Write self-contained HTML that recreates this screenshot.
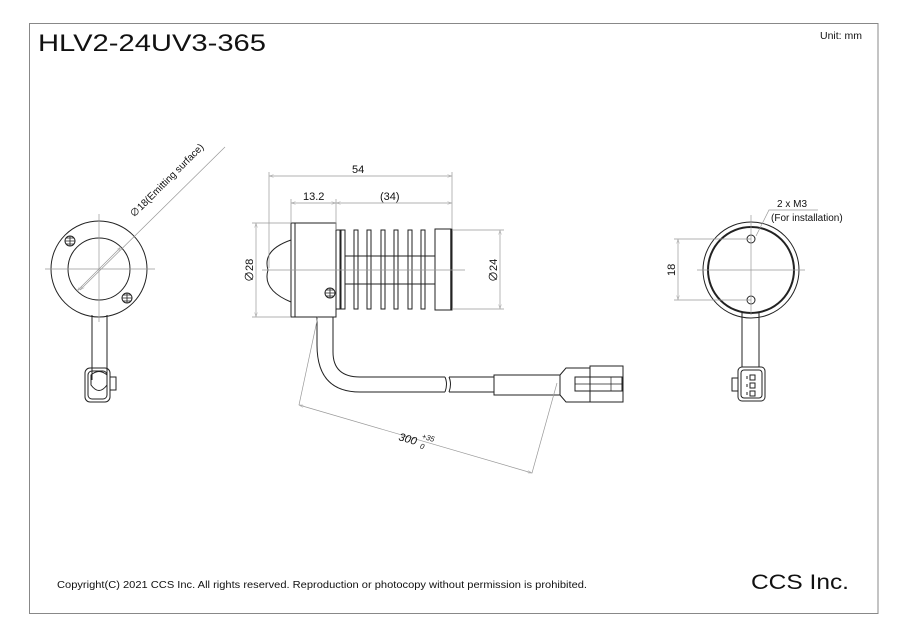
<!DOCTYPE html>
<html><head><meta charset="utf-8"><style>
html,body{margin:0;padding:0;background:#fff;width:900px;height:636px;overflow:hidden}
svg{display:block}
text{font-family:"Liberation Sans","Noto Sans CJK JP",sans-serif;fill:#111}
</style></head><body>
<svg width="900" height="636" viewBox="0 0 900 636" xmlns="http://www.w3.org/2000/svg">
<defs>
<marker id="a" viewBox="0 0 10 6" refX="10" refY="3" markerWidth="8" markerHeight="4" orient="auto-start-reverse"><path d="M0,0 L10,3 L0,6" fill="none" stroke="#aaa" stroke-width="1"/></marker>
</defs>
<rect x="29.5" y="23.5" width="848.5" height="590" fill="none" stroke="#888" stroke-width="1"/>
<text x="38" y="51" font-size="24" textLength="228" lengthAdjust="spacingAndGlyphs" font-family="'Noto Sans CJK JP',sans-serif">HLV2-24UV3-365</text>
<text x="820" y="39" font-size="10.5">Unit: mm</text>
<text x="57" y="588" font-size="10" textLength="530" lengthAdjust="spacingAndGlyphs">Copyright(C) 2021 CCS Inc. All rights reserved. Reproduction or photocopy without permission is prohibited.</text>
<text x="751" y="589" font-size="21" textLength="98" lengthAdjust="spacingAndGlyphs">CCS Inc.</text>

<g fill="none" stroke="#222" stroke-width="1">
<circle cx="99" cy="269" r="48"/>
<circle cx="99" cy="269" r="31"/>
<circle cx="70" cy="241" r="5"/><path d="M65,241h10M70,236v10M66,238h8M66,244h8" stroke-width="0.8"/>
<circle cx="127" cy="298" r="5"/><path d="M122,298h10M127,293v10M123,295h8M123,301h8" stroke-width="0.8"/>
<path d="M92,315V380M107,315V380"/>
<rect x="85" y="368" width="25" height="34" rx="5"/>
<rect x="88" y="371" width="19" height="28" rx="4"/>
<path d="M91,375 Q99,368 107,375 V385 Q99,396 91,385Z"/>
<rect x="110" y="377" width="6" height="13"/>

<rect x="291" y="223" width="45" height="94"/>
<path d="M295,223V317"/>
<path d="M291,240 Q262,250 268,270 Q262,290 291,302"/>
<rect x="336" y="230" width="4" height="79"/>
<rect x="341" y="230" width="4" height="79"/>
<rect x="354" y="230" width="4" height="79"/>
<rect x="367" y="230" width="4" height="79"/>
<rect x="381" y="230" width="4" height="79"/>
<rect x="394" y="230" width="4" height="79"/>
<rect x="408" y="230" width="4" height="79"/>
<rect x="421" y="230" width="4" height="79"/>
<path d="M345,256H435M345,284H435"/>
<rect x="435" y="229" width="17" height="81"/>
<path d="M451,229V310" stroke-width="1.5"/>
<circle cx="330" cy="293" r="5"/><path d="M325,293h10M330,288v10M326,290h8M326,296h8" stroke-width="0.8"/>
<path d="M317,317 V345 Q317,392 360,392 H445"/>
<path d="M333,317 V352 Q333,377 360,377 H445"/>
<path d="M445,377 q3,7 0,15M449,377 q3,7 0,15"/>
<path d="M449,377H494M449,392H494"/>
<rect x="494" y="375" width="66" height="20"/>
<path d="M560,375 L566,368 H590 V402 H566 L560,395"/>
<rect x="590" y="366" width="33" height="36"/>
<rect x="575" y="377" width="47" height="14"/>
<path d="M575,384H622M611,377V391" stroke-width="0.7"/>

<circle cx="751" cy="270" r="48"/>
<circle cx="751" cy="270" r="43" stroke-width="2"/>
<circle cx="751" cy="239" r="4"/>
<circle cx="751" cy="300" r="4"/>
<path d="M742,313V367M759,313V367"/>
<rect x="738" y="367" width="27" height="34" rx="4"/>
<rect x="741" y="370" width="21" height="28" rx="3"/>
<rect x="732" y="378" width="6" height="13"/>
<rect x="750" y="375" width="5" height="5"/><rect x="750" y="383" width="5" height="5"/><rect x="750" y="391" width="5" height="5"/>
<path d="M747,376v3M747,384v3M747,392v3"/>
</g>

<g fill="none" stroke="#999" stroke-width="0.7">
<path d="M45,269H155M99,214V322"/>
<path d="M80,290 L225,147" marker-start="url(#a)"/>
<path d="M121,247 L77,291" marker-start="url(#a)" marker-end="url(#a)"/>
<path d="M262,270H465"/>
<path d="M269,172V268M452,172V229"/>
<path d="M269,176H452" marker-start="url(#a)" marker-end="url(#a)"/>
<path d="M291,199V223M336,199V230"/>
<path d="M291,203H336" marker-start="url(#a)" marker-end="url(#a)"/>
<path d="M336,203H452" marker-start="url(#a)" marker-end="url(#a)"/>
<path d="M252,223H291M252,317H291"/>
<path d="M256,223V317" marker-start="url(#a)" marker-end="url(#a)"/>
<path d="M452,230H504M452,309H504"/>
<path d="M500,230V309" marker-start="url(#a)" marker-end="url(#a)"/>
<path d="M318,316 L299,405M557,383 L532,473"/>
<path d="M299,405 L532,473" marker-start="url(#a)" marker-end="url(#a)"/>
<path d="M697,270H805M751,215V315"/>
<path d="M674,239H751M674,300H751"/>
<path d="M678,239V300" marker-start="url(#a)" marker-end="url(#a)"/>
<path d="M756,236 L769,210 H818"/>
</g>

<text font-size="10" transform="translate(134,218) rotate(-45)">∅18(Emitting surface)</text>
<text x="352" y="173" font-size="11">54</text>
<text x="303" y="200" font-size="11">13.2</text>
<text x="380" y="200" font-size="11">(34)</text>
<text font-size="11" transform="translate(253,282) rotate(-90)">∅28</text>
<text font-size="11" transform="translate(497,282) rotate(-90)">∅24</text>
<text font-size="11" transform="translate(675,276) rotate(-90)">18</text>
<text x="777" y="207" font-size="10">2 x M3</text>
<text x="771" y="221" font-size="10">(For installation)</text>
<g transform="translate(398,440) rotate(16)">
<text x="0" y="0" font-size="11" font-style="italic">300</text>
<text x="22" y="-8" font-size="7.5" font-style="italic">+35</text>
<text x="23" y="2" font-size="7.5" font-style="italic">0</text>
</g>
</svg>
</body></html>
